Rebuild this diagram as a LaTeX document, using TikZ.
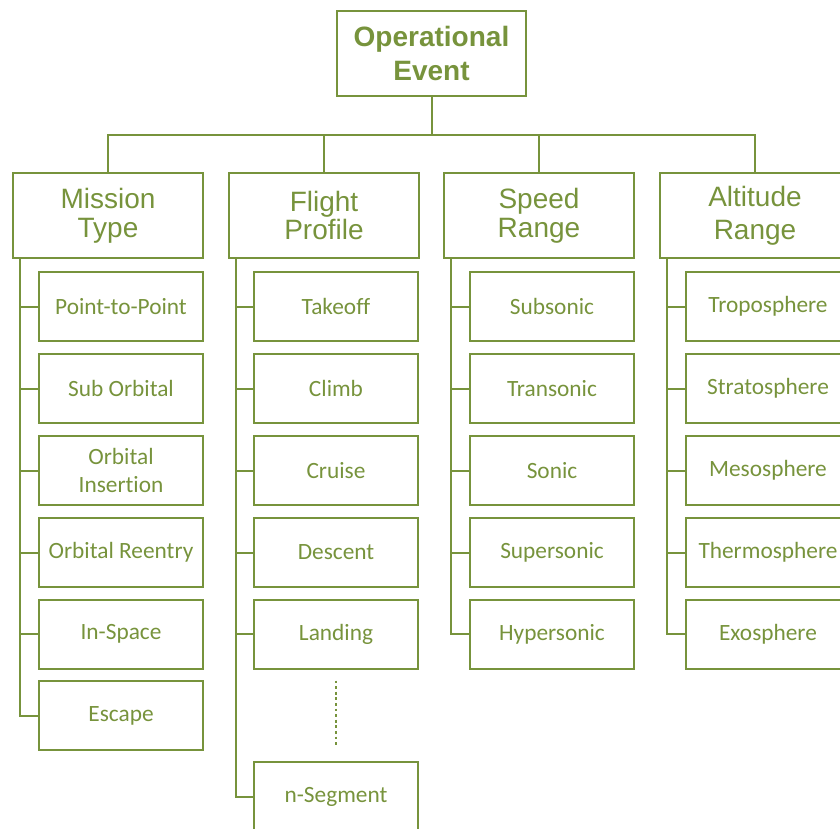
\documentclass[tikz,border=0pt]{standalone}
\usepackage{fontspec}
\setmainfont{Liberation Sans}
\newfontfamily\bodyfont[Ligatures=NoCommon]{Carlito}
\definecolor{olive}{RGB}{119,147,60}
\tikzset{
  boxline/.style={draw=olive, line width=1.5pt},
  rootbox/.style={boxline, anchor=north west, minimum width=141.75pt, minimum height=63.75pt,
    align=center, inner sep=0pt, text=olive, font=\fontsize{21}{25}\selectfont\bfseries},
  groupbox/.style={boxline, anchor=north west, minimum width=142.5pt, minimum height=63.75pt,
    align=center, inner sep=0pt, text=olive, font=\fontsize{21}{21.5}\selectfont},
  itembox/.style={boxline, anchor=north west, minimum width=123pt, minimum height=51.75pt,
    align=center, inner sep=0pt, text=olive, font=\bodyfont\fontsize{17.5}{21}\selectfont},
  link/.style={draw=olive, line width=1.5pt},
}
\begin{document}
\begin{tikzpicture}[x=0.75pt, y=-0.75pt] % 1 unit = 1 px of the reference
  \clip (0,0) rectangle (840,829);
  % Wurzel
  \node[rootbox] (root) at (336,10) {Operational\\Event};
  % Kategorien
  \node[groupbox] (mission)  at (12,172)  {Mission\\Type};
  \node[groupbox] (flight)   at (228,172) {Flight\\Profile};
  \node[groupbox] (speed)    at (443,172) {Speed\\Range};
  \node[groupbox, font=\fontsize{21}{25}\selectfont] (altitude) at (659,172) {Altitude\\Range};
  % Mission Type
  \node[itembox] (m1) at (38,271)   {Point-to-Point};
  \node[itembox] (m2) at (38,353)   {Sub Orbital};
  \node[itembox] (m3) at (38,435)   {Orbital\\Insertion};
  \node[itembox] (m4) at (38,517)   {Orbital Reentry};
  \node[itembox] (m5) at (38,598.5) {In-Space};
  \node[itembox] (m6) at (38,680)   {Escape};
  % Flight Profile
  \node[itembox] (f1) at (253,271)   {Takeoff};
  \node[itembox] (f2) at (253,353)   {Climb};
  \node[itembox] (f3) at (253,435)   {Cruise};
  \node[itembox] (f4) at (253,517)   {Descent};
  \node[itembox] (f5) at (253,598.5) {Landing};
  \node[itembox] (fn) at (253,761)   {n-Segment};
  % Speed Range
  \node[itembox] (s1) at (469,271)   {Subsonic};
  \node[itembox] (s2) at (469,353)   {Transonic};
  \node[itembox] (s3) at (469,435)   {Sonic};
  \node[itembox] (s4) at (469,517)   {Supersonic};
  \node[itembox] (s5) at (469,598.5) {Hypersonic};
  % Altitude Range
  \node[itembox] (a1) at (685,271)   {Troposphere};
  \node[itembox] (a2) at (685,353)   {Stratosphere};
  \node[itembox] (a3) at (685,435)   {Mesosphere};
  \node[itembox] (a4) at (685,517)   {Thermosphere};
  \node[itembox] (a5) at (685,598.5) {Exosphere};

  % Verbindungen
  \draw[link] (root.south) -- ++(0,38) coordinate (bus);
  \foreach \g in {mission,flight,speed,altitude}
    \draw[link] (bus) -| (\g.north);
  \foreach \i in {1,...,6}
    \draw[link] ([xshift=6pt]mission.south west) |- (m\i.west);
  \foreach \i in {1,...,5,n}
    \draw[link] ([xshift=6pt]flight.south west) |- (f\i.west);
  \foreach \i in {1,...,5}
    \draw[link] ([xshift=6pt]speed.south west) |- (s\i.west);
  \foreach \i in {1,...,5}
    \draw[link] ([xshift=6pt]altitude.south west) |- (a\i.west);
  % Punkte zwischen Landing und n-Segment
  \draw[link, dash pattern=on 2.2pt off 2pt] ([yshift=-8.25pt]f5.south) -- ([yshift=11.25pt]fn.north);
\end{tikzpicture}
\end{document}
